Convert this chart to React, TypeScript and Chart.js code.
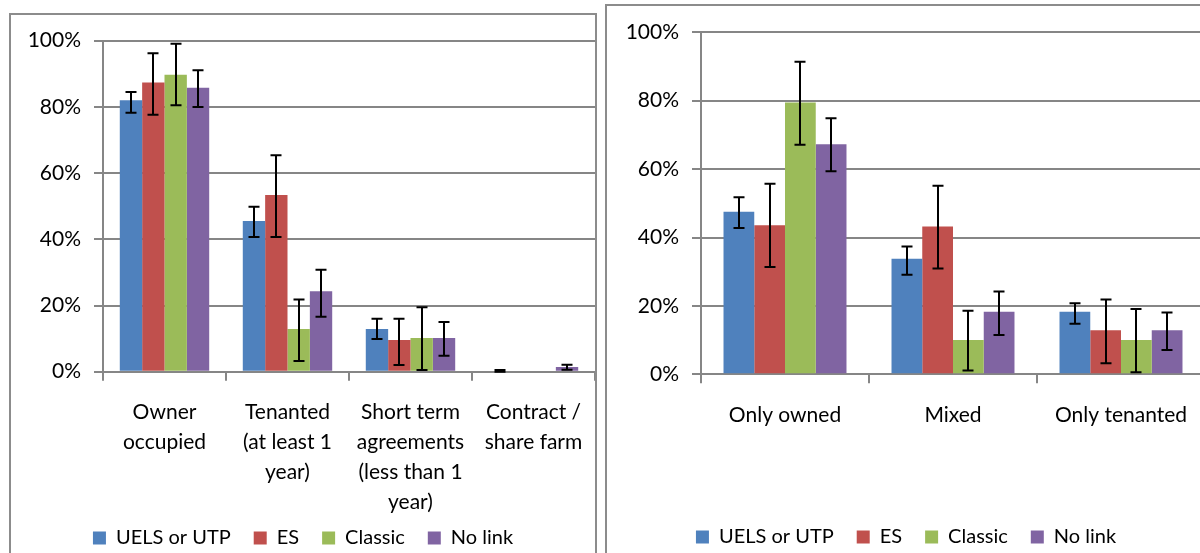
import React, { useEffect, useRef } from "react";
import { Chart, registerables } from "chart.js";

Chart.register(...registerables);

// ---------- data ----------
const seriesNames = ["UELS or UTP", "ES", "Classic", "No link"];
const seriesColors = ["#4F81BD", "#C0504D", "#9BBB59", "#8064A2"];
const yTickValues = [0, 20, 40, 60, 80, 100];

// left panel
const leftCategories = [
  ["Owner", "occupied"],
  ["Tenanted", "(at least 1", "year)"],
  ["Short term", "agreements", "(less than 1", "year)"],
  ["Contract /", "share farm"],
];
const leftUels = [82.0, 45.5, 12.9, 0.0];
const leftUelsLow = [78.2, 40.7, 9.9, 0.0];
const leftUelsHigh = [84.5, 49.8, 16.0, 0.5];
const leftEs = [87.4, 53.4, 9.6, 0];
const leftEsLow = [77.6, 40.7, 2.0, null];
const leftEsHigh = [96.2, 65.4, 16.0, null];
const leftClassic = [89.7, 12.9, 10.2, 0];
const leftClassicLow = [80.5, 3.2, 0.5, null];
const leftClassicHigh = [99.1, 21.8, 19.5, null];
const leftNoLink = [85.8, 24.3, 10.2, 1.4];
const leftNoLinkLow = [80.0, 16.6, 4.8, 0.6];
const leftNoLinkHigh = [91.1, 30.8, 15.0, 2.1];

// right panel
const rightCategories = ["Only owned", "Mixed", "Only tenanted"];
const rightUels = [47.5, 33.8, 18.3];
const rightUelsLow = [42.8, 29.1, 14.8];
const rightUelsHigh = [51.8, 37.4, 20.8];
const rightEs = [43.6, 43.2, 12.9];
const rightEsLow = [31.4, 30.9, 3.2];
const rightEsHigh = [55.7, 55.1, 21.9];
const rightClassic = [79.5, 10.0, 10.0];
const rightClassicLow = [67.1, 1.1, 0.6];
const rightClassicHigh = [91.4, 18.6, 19.1];
const rightNoLink = [67.3, 18.3, 12.9];
const rightNoLinkLow = [59.4, 11.5, 7.1];
const rightNoLinkHigh = [74.9, 24.2, 18.1];

const FONT = "Lato, 'Liberation Sans', sans-serif";
const GRID = "#868686";

const errorBarPlugin = {
  id: "errorBars",
  afterDatasetsDraw(chart: any, _args: any, opts: any) {
    const { ctx } = chart;
    const ys = chart.scales.y;
    ctx.save();
    ctx.strokeStyle = "#000";
    ctx.lineWidth = 2;
    chart.data.datasets.forEach((_ds: any, d: number) => {
      const meta = chart.getDatasetMeta(d);
      meta.data.forEach((bar: any, i: number) => {
        const lo = opts.lows[d][i];
        const hi = opts.highs[d][i];
        if (lo == null || hi == null) return;
        const x = Math.round(bar.x);
        const y1 = ys.getPixelForValue(lo);
        const y2 = ys.getPixelForValue(hi);
        ctx.beginPath();
        ctx.moveTo(x, y1);
        ctx.lineTo(x, y2);
        ctx.moveTo(x - 5.5, y1);
        ctx.lineTo(x + 5.5, y1);
        ctx.moveTo(x - 5.5, y2);
        ctx.lineTo(x + 5.5, y2);
        ctx.stroke();
      });
    });
    ctx.restore();
  },
};

function makeConfig(p: {
  labels: any[];
  values: number[][];
  lows: (number | null)[][];
  highs: (number | null)[][];
  yWidth: number;
  xHeight: number;
  padTop: number;
  padBottom: number;
  catPct: number;
}) {
  return {
    type: "bar",
    data: {
      labels: p.labels,
      datasets: seriesNames.map((name, i) => ({
        label: name,
        data: p.values[i],
        backgroundColor: seriesColors[i],
        borderWidth: 0,
        categoryPercentage: p.catPct,
        barPercentage: 1,
      })),
    },
    options: {
      responsive: false,
      animation: false,
      events: [],
      layout: { padding: { top: p.padTop, bottom: p.padBottom, left: 0, right: 0 } },
      plugins: {
        legend: {
          position: "bottom",
          labels: {
            boxWidth: 13,
            boxHeight: 13,
            padding: 23,
            color: "#000",
            font: { family: FONT, size: 20 },
          },
        },
        tooltip: { enabled: false },
        errorBars: { lows: p.lows, highs: p.highs },
      },
      scales: {
        x: {
          grid: {
            display: true,
            drawOnChartArea: false,
            drawTicks: true,
            tickLength: 9,
            color: GRID,
            lineWidth: 2,
            offset: true,
          },
          border: { display: true, color: GRID, width: 2 },
          ticks: {
            color: "#000",
            padding: 17,
            maxRotation: 0,
            autoSkip: false,
            font: { family: FONT, size: 21, lineHeight: 1.42 },
          },
          afterFit(scale: any) {
            scale.height = p.xHeight;
            scale.paddingLeft = 0;
            scale.paddingRight = 0;
            // let multi-line category labels extend past the axis box (no clipping)
            scale._computeLabelArea = () => undefined;
          },
        },
        y: {
          min: 0,
          max: 100,
          afterBuildTicks(scale: any) {
            scale.ticks = yTickValues.map((v) => ({ value: v }));
          },
          grid: { color: GRID, lineWidth: 2, tickLength: 9, drawTicks: true },
          border: { display: true, color: GRID, width: 2 },
          ticks: {
            color: "#000",
            padding: 13,
            font: { family: FONT, size: 21 },
            callback: (v: any) => v + "%",
          },
          afterFit(scale: any) {
            scale.width = p.yWidth;
            scale.paddingTop = 0;
            scale.paddingBottom = 0;
          },
        },
      },
    },
    plugins: [errorBarPlugin],
  };
}

export default function App() {
  const leftRef = useRef<HTMLCanvasElement>(null);
  const rightRef = useRef<HTMLCanvasElement>(null);

  useEffect(() => {
    const left = new Chart(
      leftRef.current as HTMLCanvasElement,
      makeConfig({
        labels: leftCategories,
        values: [leftUels, leftEs, leftClassic, leftNoLink],
        lows: [leftUelsLow, leftEsLow, leftClassicLow, leftNoLinkLow],
        highs: [leftUelsHigh, leftEsHigh, leftClassicHigh, leftNoLinkHigh],
        yWidth: 92,
        xHeight: 133.3,
        padTop: 25.7,
        padBottom: 17,
        catPct: 0.727,
      }) as any
    );
    const right = new Chart(
      rightRef.current as HTMLCanvasElement,
      makeConfig({
        labels: rightCategories,
        values: [rightUels, rightEs, rightClassic, rightNoLink],
        lows: [rightUelsLow, rightEsLow, rightClassicLow, rightNoLinkLow],
        highs: [rightUelsHigh, rightEsHigh, rightClassicHigh, rightNoLinkHigh],
        yWidth: 94,
        xHeight: 129.7,
        padTop: 26.3,
        padBottom: 9,
        catPct: 0.732,
      }) as any
    );
    return () => {
      left.destroy();
      right.destroy();
    };
  }, []);

  return (
    <div style={{ position: "fixed", inset: 0, overflow: "hidden", background: "#fff" }}>
      <div
        style={{
          position: "absolute",
          left: 9,
          top: 13,
          width: 588,
          height: 700,
          boxSizing: "border-box",
          border: "2px solid #8c8c8c",
        }}
      />
      <div
        style={{
          position: "absolute",
          left: 605,
          top: 4,
          width: 700,
          height: 700,
          boxSizing: "border-box",
          border: "2px solid #8c8c8c",
        }}
      />
      <canvas
        ref={leftRef}
        width={584}
        height={560}
        style={{ position: "absolute", left: 11, top: 15, width: 584, height: 560 }}
      />
      <canvas
        ref={rightRef}
        width={598}
        height={560}
        style={{ position: "absolute", left: 607, top: 6, width: 598, height: 560 }}
      />
    </div>
  );
}
